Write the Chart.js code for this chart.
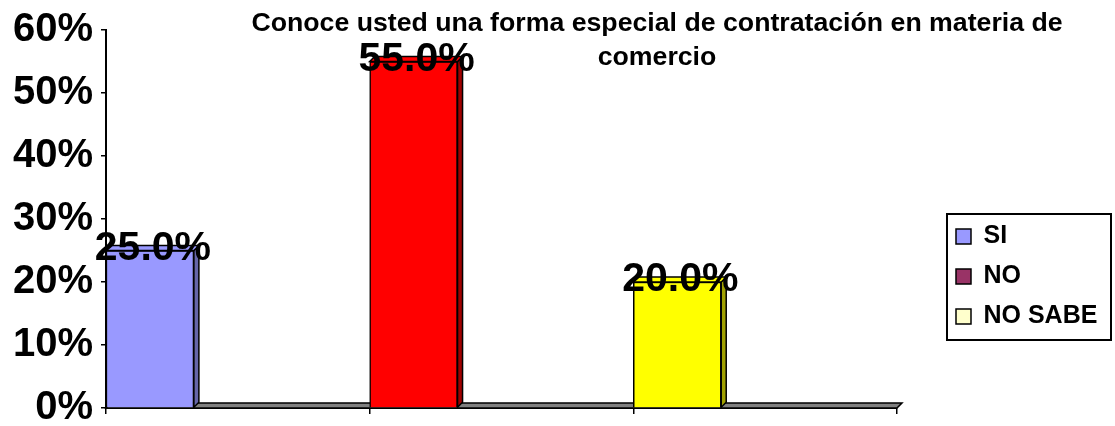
<!DOCTYPE html>
<html>
<head>
<meta charset="utf-8">
<script src="https://cdn.jsdelivr.net/npm/chart.js@4/dist/chart.umd.min.js"></script>
<style>
  html, body { margin: 0; padding: 0; background: #fff; }
  #wrap { width: 1115px; height: 426px; }
</style>
</head>
<body>
<div id="wrap"><canvas id="chart"></canvas></div>
<script>
// values
const categories = ['SI', 'NO', 'NO SABE'];
const percentages = [25, 55, 20];
const yTicks = [0, 10, 20, 30, 40, 50, 60];
const titleLines = ['Conoce usted una forma especial de contratación en materia de', 'comercio'];

// colours
const barColors = ['#9999FF', '#FF0000', '#FFFF00'];
const sideColors = ['#6666A8', '#A00000', '#A0A000'];
const legendColors = ['#9999FF', '#993366', '#FFFFCC'];

const FONT = '"Liberation Sans", Arial, sans-serif';
const DEPTH = 5;

// fake 3d: floor under the bars, side/top faces and the value labels
const bars3d = {
  id: 'bars3d',
  beforeDatasetsDraw(chart) {
    const {ctx, chartArea: a} = chart;
    ctx.save();
    ctx.beginPath();
    ctx.moveTo(a.left, a.bottom);
    ctx.lineTo(a.left + DEPTH, a.bottom - DEPTH);
    ctx.lineTo(a.right + DEPTH, a.bottom - DEPTH);
    ctx.lineTo(a.right, a.bottom);
    ctx.closePath();
    ctx.fillStyle = '#808080';
    ctx.fill();
    ctx.strokeStyle = '#000';
    ctx.lineWidth = 1.5;
    ctx.stroke();
    ctx.restore();
  },
  afterDatasetsDraw(chart) {
    const {ctx} = chart;
    const meta = chart.getDatasetMeta(0);
    ctx.save();
    ctx.strokeStyle = '#000';
    ctx.lineWidth = 1.5;
    meta.data.forEach((bar, i) => {
      const l = bar.x - bar.width / 2, r = bar.x + bar.width / 2;
      const t = bar.y, b = bar.base;
      // side
      ctx.beginPath();
      ctx.moveTo(r, t);
      ctx.lineTo(r + DEPTH, t - DEPTH);
      ctx.lineTo(r + DEPTH, b - DEPTH);
      ctx.lineTo(r, b);
      ctx.closePath();
      ctx.fillStyle = sideColors[i];
      ctx.fill();
      ctx.stroke();
      // top
      ctx.beginPath();
      ctx.moveTo(l, t);
      ctx.lineTo(l + DEPTH, t - DEPTH);
      ctx.lineTo(r + DEPTH, t - DEPTH);
      ctx.lineTo(r, t);
      ctx.closePath();
      ctx.fillStyle = barColors[i];
      ctx.fill();
      ctx.stroke();
    });
    // value labels sit on the bar tops
    ctx.fillStyle = '#000';
    ctx.font = 'bold 41px ' + FONT;
    ctx.textAlign = 'center';
    ctx.textBaseline = 'middle';
    meta.data.forEach((bar, i) => {
      ctx.fillText(percentages[i].toFixed(1) + '%', bar.x + 3, bar.y - 2);
    });
    ctx.restore();
  }
};

// title overlaps the plot, so draw it by hand
const overlayTitle = {
  id: 'overlayTitle',
  afterDraw(chart) {
    const {ctx} = chart;
    ctx.save();
    ctx.fillStyle = '#000';
    ctx.font = 'bold 26.7px ' + FONT;
    ctx.textAlign = 'center';
    ctx.textBaseline = 'alphabetic';
    ctx.fillText(titleLines[0], 657, 31);
    ctx.fillText(titleLines[1], 657, 65);

    // legend frame
    const hb = chart.legend.legendHitBoxes;
    if (hb && hb.length) {
      const x = hb[0].left - 9, y = hb[0].top - 10;
      const last = hb[hb.length - 1];
      ctx.strokeStyle = '#000';
      ctx.lineWidth = 2;
      ctx.strokeRect(x, y, 164, last.top + last.height + 11 - y);
    }
    ctx.restore();
  }
};

const spacer = categories.map(() => null);

new Chart(document.getElementById('chart'), {
  type: 'bar',
  data: {
    labels: categories,
    datasets: [
      {label: 'valores', data: percentages, backgroundColor: barColors,
       borderColor: '#000', borderWidth: 1.5},
      {label: 'a', data: spacer},
      {label: 'b', data: spacer}
    ]
  },
  options: {
    responsive: true,
    maintainAspectRatio: false,
    animation: false,
    categoryPercentage: 1,
    barPercentage: 1,
    layout: {padding: {top: 30, left: 0, right: 7.6, bottom: 0}},
    plugins: {
      title: {display: false},
      tooltip: {enabled: false},
      legend: {
        position: 'right',
        align: 'start',
        title: {display: true, text: '', font: {size: 10, lineHeight: 1}, padding: {top: 169, bottom: 0}},
        labels: {
          boxWidth: 15,
          boxHeight: 15,
          padding: 15,
          color: '#000',
          font: {family: FONT, size: 25, weight: 'bold'},
          generateLabels: () => categories.map((c, i) => ({
            text: c, fillStyle: legendColors[i], strokeStyle: '#000', fontColor: '#000',
            lineWidth: 1.5, hidden: false, datasetIndex: 0, index: i
          }))
        }
      }
    },
    scales: {
      x: {
        grid: {display: true, drawOnChartArea: false, offset: true, tickLength: 6, color: '#000', lineWidth: 1.5},
        border: {display: true, color: '#000', width: 2},
        ticks: {display: false},
        afterFit: s => { s.height = 18; }
      },
      y: {
        min: 0,
        max: 60,
        afterBuildTicks: s => { s.ticks = yTicks.map(v => ({value: v})); },
        grid: {display: true, drawOnChartArea: false, tickLength: 5, color: '#000', lineWidth: 1.5},
        border: {display: true, color: '#000', width: 2},
        ticks: {
          padding: 8,
          color: '#000',
          font: {family: FONT, size: 40, weight: 'bold'},
          callback: v => v + '%'
        },
        afterFit: s => { s.width = 106; s.paddingTop = 0; s.paddingBottom = 0; }
      },
      gap: {
        type: 'linear',
        position: 'right',
        min: 0,
        max: 1,
        grid: {display: false},
        border: {display: false},
        ticks: {display: false},
        afterFit: s => { s.width = 44; s.paddingTop = 0; s.paddingBottom = 0; }
      }
    }
  },
  plugins: [bars3d, overlayTitle]
});
</script>
</body>
</html>
